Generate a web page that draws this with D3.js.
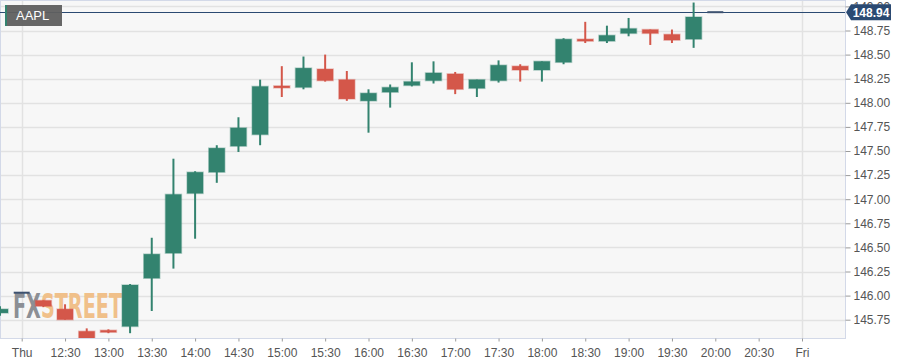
<!DOCTYPE html>
<html>
<head>
<meta charset="utf-8">
<script src="https://cdn.jsdelivr.net/npm/d3@7"></script>
<style>
  body { margin: 0; background: #fff; }
  svg { display: block; font-family: "Liberation Sans", Arial, sans-serif; }
</style>
</head>
<body>
<svg id="chart" width="916" height="364"></svg>
<script>
// 15 minute candles, AAPL
var times  = ["11:45","12:00","12:15","12:30","12:45","13:00","13:15","13:30","13:45","14:00","14:15","14:30","14:45",
              "15:00","15:15","15:30","15:45","16:00","16:15","16:30","16:45","17:00","17:15","17:30","17:45",
              "18:00","18:15","18:30","18:45","19:00","19:15","19:30","19:45","20:00"];
var opens  = [145.82,146.03,145.95,145.86,145.63,145.64,145.68,146.18,146.44,147.06,147.28,147.55,147.67,
              148.17,148.16,148.35,148.24,148.02,148.11,148.18,148.23,148.30,148.15,148.23,148.38,
              148.34,148.42,148.66,148.64,148.72,148.76,148.71,148.66,148.94];
var highs  = [145.89,146.03,145.95,145.91,145.66,145.65,146.12,146.60,147.42,147.29,147.56,147.85,148.24,
              148.38,148.48,148.50,148.33,148.14,148.19,148.42,148.43,148.32,148.24,148.44,148.40,
              148.43,148.67,148.84,148.80,148.88,148.76,148.76,149.04,148.94];
var lows   = [145.79,146.03,145.88,145.75,145.52,145.61,145.61,145.84,146.28,146.59,147.17,147.49,147.56,
              148.06,148.14,148.22,148.02,147.69,147.95,148.17,148.20,148.09,148.06,148.21,148.22,
              148.22,148.40,148.62,148.62,148.69,148.60,148.62,148.57,148.94];
var closes = [145.86,146.03,145.89,145.75,145.53,145.62,146.11,146.43,147.05,147.28,147.53,147.74,148.17,
              148.16,148.36,148.23,148.04,148.10,148.16,148.22,148.31,148.14,148.24,148.39,148.34,
              148.43,148.66,148.64,148.70,148.77,148.72,148.65,148.89,148.94];
var lastPrice = 148.94;
var symbol = "AAPL";

var xTickTimes  = ["12:00","12:30","13:00","13:30","14:00","14:30","15:00","15:30","16:00","16:30",
                   "17:00","17:30","18:00","18:30","19:00","19:30","20:00","20:30","21:00"];
var xTickLabels = ["Thu","12:30","13:00","13:30","14:00","14:30","15:00","15:30","16:00","16:30",
                   "17:00","17:30","18:00","18:30","19:00","19:30","20:00","20:30","Fri"];
var yTicks = [145.75,146.00,146.25,146.50,146.75,147.00,147.25,147.50,147.75,148.00,148.25,148.50,148.75,149.00];
var dayBreaks = ["12:00","21:00"];

var green = "#33836f", red = "#d4574a", flat = "#3d5270";
var plotL = 0, plotR = 845, plotT = 0, plotB = 338;

var parse = d3.timeParse("%H:%M");
var svg = d3.select("#chart");

var x = d3.scaleTime()
    .domain([parse("12:00"), parse("21:00")])
    .range([21.7, 802]);
var y = d3.scaleLinear()
    .domain([145.75, 148.75])
    .range([319.7, 30.5]);

var candles = times.map(function(t, i) {
    return { t: parse(t), o: opens[i], h: highs[i], l: lows[i], c: closes[i] };
});
var bodyW = 16;

svg.append("defs").append("clipPath").attr("id", "plotclip")
  .append("rect").attr("x", plotL).attr("y", plotT).attr("width", plotR - plotL).attr("height", plotB - plotT);

// background
svg.append("rect")
    .attr("x", plotL + 0.5).attr("y", plotT + 0.5)
    .attr("width", plotR - plotL).attr("height", plotB - plotT)
    .attr("fill", "#f7f7f7")
    .attr("stroke", "#d3d9e8");

var plot = svg.append("g").attr("clip-path", "url(#plotclip)");

// grid
plot.append("g").selectAll("line")
    .data(yTicks)
    .enter().append("line")
      .attr("x1", plotL + 1).attr("x2", plotR)
      .attr("y1", function(d) { return Math.round(y(d)) + 0.5; })
      .attr("y2", function(d) { return Math.round(y(d)) + 0.5; })
      .attr("stroke", "#e2e2e2")
      .attr("stroke-width", 1.5);

plot.append("g").selectAll("line")
    .data(dayBreaks)
    .enter().append("line")
      .attr("x1", function(d) { return Math.round(x(parse(d))) + 0.5; })
      .attr("x2", function(d) { return Math.round(x(parse(d))) + 0.5; })
      .attr("y1", plotT + 1).attr("y2", plotB)
      .attr("stroke", "#e2e2e2")
      .attr("stroke-width", 1.5);

// watermark
var wm = plot.append("text")
    .attr("x", 13).attr("y", 318)
    .attr("font-family", "DejaVu Sans Condensed, DejaVu Sans")
    .attr("font-weight", "bold")
    .attr("font-size", 34);
wm.append("tspan").attr("fill", "#8c8f95").text("FX");
wm.append("tspan").attr("fill", "#f0c08a").text("STREET");
wm.attr("textLength", 109).attr("lengthAdjust", "spacingAndGlyphs");

function candleColor(d) {
    if (d.c > d.o) return green;
    if (d.c < d.o) return red;
    return flat;
}

// price line
plot.append("line")
    .attr("x1", plotL).attr("x2", plotR)
    .attr("y1", Math.round(y(lastPrice)) + 0.5)
    .attr("y2", Math.round(y(lastPrice)) + 0.5)
    .attr("stroke", "#2b4a72")
    .attr("stroke-width", 1.2);

var candle = plot.append("g").selectAll("g")
    .data(candles)
    .enter().append("g");

candle.filter(function(d) { return d.h > d.l; })
  .append("line")
    .attr("x1", function(d) { return x(d.t); })
    .attr("x2", function(d) { return x(d.t); })
    .attr("y1", function(d) { return y(d.h); })
    .attr("y2", function(d) { return y(d.l); })
    .attr("stroke", candleColor)
    .attr("stroke-width", 2);

candle.append("rect")
    .attr("x", function(d) { return x(d.t) - bodyW / 2; })
    .attr("y", function(d) {
        var top = y(Math.max(d.o, d.c)), bot = y(Math.min(d.o, d.c));
        return bot - top < 2 ? (top + bot) / 2 - 1 : top;
    })
    .attr("width", bodyW)
    .attr("height", function(d) { return Math.max(2, Math.abs(y(d.o) - y(d.c))); })
    .attr("fill", candleColor)
    .attr("stroke", function(d) { return d.o === d.c ? "none" : candleColor(d); })
    .attr("stroke-opacity", 0.35)
    .attr("stroke-width", 1.5);

// symbol label
var lab = svg.append("g");
lab.append("rect").attr("x", 5).attr("y", 5).attr("width", 57).attr("height", 21)
    .attr("fill", "#5f5f5f").attr("fill-opacity", 0.95);
lab.append("rect").attr("x", 5).attr("y", 5).attr("width", 2).attr("height", 21)
    .attr("fill", green);
lab.append("text").attr("x", 16).attr("y", 20)
    .attr("fill", "#fff").attr("font-size", 13)
    .text(symbol);

// y axis
var yAxis = svg.append("g")
    .attr("transform", "translate(" + (plotR + 0.5) + ",0)")
    .call(d3.axisRight(y).tickValues(yTicks).tickFormat(d3.format(".2f")).tickSize(5).tickPadding(3));
yAxis.select(".domain").remove();
yAxis.selectAll("line").attr("stroke", "#9a9a9a");
yAxis.selectAll("text").attr("fill", "#555").attr("font-size", 12)
    .attr("font-family", "Liberation Sans, Arial, sans-serif");

// x axis
var xAxis = svg.append("g")
    .attr("transform", "translate(0," + (plotB + 0.5) + ")")
    .call(d3.axisBottom(x)
        .tickValues(xTickTimes.map(parse))
        .tickFormat(function(d, i) { return xTickLabels[i]; })
        .tickSize(3).tickPadding(7));
xAxis.select(".domain").remove();
xAxis.selectAll("line").attr("stroke", "#9a9a9a");
xAxis.selectAll("text").attr("fill", "#555").attr("font-size", 12)
    .attr("font-family", "Liberation Sans, Arial, sans-serif");

// last price marker
var py = y(lastPrice);
var pm = svg.append("g");
pm.append("path")
    .attr("d", "M" + (plotR + 1) + "," + py + "L" + (plotR + 6) + "," + (py - 8) + "H" + 891 + "V" + (py + 8) + "H" + (plotR + 6) + "Z")
    .attr("fill", "#2b4a72");
pm.append("text")
    .attr("x", 871).attr("y", py + 4.5)
    .attr("text-anchor", "middle")
    .attr("fill", "#fff").attr("font-size", 12).attr("font-weight", "bold")
    .text(d3.format(".2f")(lastPrice));
</script>
</body>
</html>
